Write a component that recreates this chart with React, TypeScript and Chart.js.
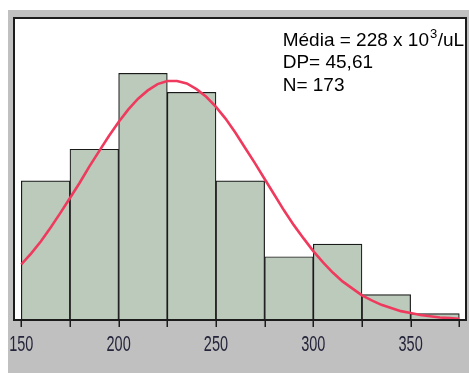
import React, { useEffect, useRef } from "react";
import { Chart, registerables } from "chart.js";

Chart.register(...registerables);

// Histogram bins (centres of 25-wide classes) and counts
const binCenters = [162.5, 187.5, 212.5, 237.5, 262.5, 287.5, 312.5, 337.5, 362.5];
const binCounts = [22, 27, 39, 36, 22, 10, 12, 4, 1];

// Fitted curve
const curveX = [150, 155, 160, 165, 170, 175, 180, 185, 190, 195, 200, 205, 210, 215, 220, 225, 230, 235, 240, 245, 250, 255, 260, 265, 270, 275, 280, 285, 290, 295, 300, 305, 310, 315, 320, 325, 330, 335, 340, 345, 350, 355, 360, 365, 370, 375];
const curveY = [8.8, 10.5, 12.4, 14.6, 16.9, 19.3, 21.7, 24.3, 26.7, 29.1, 31.3, 33.3, 35.0, 36.3, 37.3, 37.8, 37.8, 37.4, 36.5, 35.3, 33.7, 31.8, 29.6, 27.2, 24.8, 22.3, 19.8, 17.3, 15.0, 12.9, 10.9, 9.1, 7.5, 6.1, 5.0, 3.9, 3.1, 2.4, 1.9, 1.4, 1.1, 0.8, 0.6, 0.4, 0.3, 0.2];

// Axis ticks
const tickMarks = [150, 175, 200, 225, 250, 275, 300, 325, 350, 375];
const tickLabels = ["150", "200", "250", "300", "350"];

const annotationLines = ["Média = 228 x 10", "DP= 45,61", "N= 173"];

const FONT = '"Liberation Sans", Arial, Helvetica, sans-serif';

const decorPlugin = {
  id: "decor",
  beforeDraw(chart: any) {
    const ctx = chart.ctx;
    ctx.save();
    ctx.fillStyle = "#c0c0c0";
    ctx.fillRect(8, 10, 461, 363);
    ctx.fillStyle = "#ffffff";
    ctx.fillRect(13, 17, 453, 303);
    ctx.restore();
  },
  afterDraw(chart: any) {
    const ctx = chart.ctx;
    const xs = chart.scales.x;
    const ca = chart.chartArea;
    ctx.save();
    // frame
    ctx.strokeStyle = "#1c1c1c";
    ctx.lineWidth = 2;
    ctx.strokeRect(14, 18, 452, 302);
    // tick marks
    ctx.lineWidth = 1.5;
    ctx.strokeStyle = "#1c1c1c";
    tickMarks.forEach((v) => {
      const px = Math.round(xs.getPixelForValue(v)) + 0.25;
      ctx.beginPath();
      ctx.moveTo(px, ca.bottom);
      ctx.lineTo(px, ca.bottom + 7);
      ctx.stroke();
    });
    // tick labels (tall, narrow)
    ctx.fillStyle = "#24243a";
    ctx.font = `14.5px ${FONT}`;
    ctx.textAlign = "center";
    ctx.textBaseline = "alphabetic";
    tickLabels.forEach((t) => {
      const px = xs.getPixelForValue(Number(t));
      ctx.save();
      ctx.translate(px, 350.7);
      ctx.scale(1, 1.5);
      ctx.fillText(t, 0, 0);
      ctx.restore();
    });
    // annotation
    ctx.fillStyle = "#000000";
    ctx.textAlign = "left";
    const x0 = 282.7;
    ctx.font = `19px ${FONT}`;
    ctx.fillText(annotationLines[0], x0, 45.5);
    const w = ctx.measureText(annotationLines[0]).width;
    ctx.font = `13px ${FONT}`;
    ctx.fillText("3", x0 + w + 1, 37.6);
    const w3 = ctx.measureText("3").width;
    ctx.font = `19px ${FONT}`;
    ctx.fillText("/uL", x0 + w + 1.5 + w3, 45.5);
    ctx.fillText(annotationLines[1], x0, 67.8);
    ctx.fillText(annotationLines[2], x0, 90.6);
    ctx.restore();
  },
};

export default function App() {
  const ref = useRef<HTMLCanvasElement | null>(null);
  useEffect(() => {
    if (!ref.current) return;
    const chart = new Chart(ref.current, {
      type: "bar",
      data: {
        datasets: [
          {
            type: "line",
            data: curveX.map((x, i) => ({ x, y: curveY[i] })),
            borderColor: "#ef3a5e",
            borderWidth: 2.6,
            pointRadius: 0,
            tension: 0,
            fill: false,
            order: 1,
          } as any,
          {
            type: "bar",
            data: binCenters.map((x, i) => ({ x, y: binCounts[i] })),
            backgroundColor: "#bbcaba",
            borderColor: "#1a1a1a",
            borderWidth: 1.2,
            borderSkipped: false,
            barPercentage: 1,
            categoryPercentage: 1,
            order: 2,
          } as any,
        ],
      },
      options: {
        responsive: false,
        animation: false,
        layout: { padding: { left: 14, top: 18, right: 3, bottom: 53 } },
        plugins: { legend: { display: false }, tooltip: { enabled: false } },
        scales: {
          x: { type: "linear", min: 146.25, max: 378.44, offset: false, display: false },
          y: { min: 0, max: 47.75, display: false },
        },
      },
      plugins: [decorPlugin],
    });
    return () => chart.destroy();
  }, []);
  return (
    <div style={{ position: "absolute", left: 0, top: 0, width: 469, height: 373 }}>
      <canvas ref={ref} width={469} height={373} style={{ display: "block" }} />
    </div>
  );
}
